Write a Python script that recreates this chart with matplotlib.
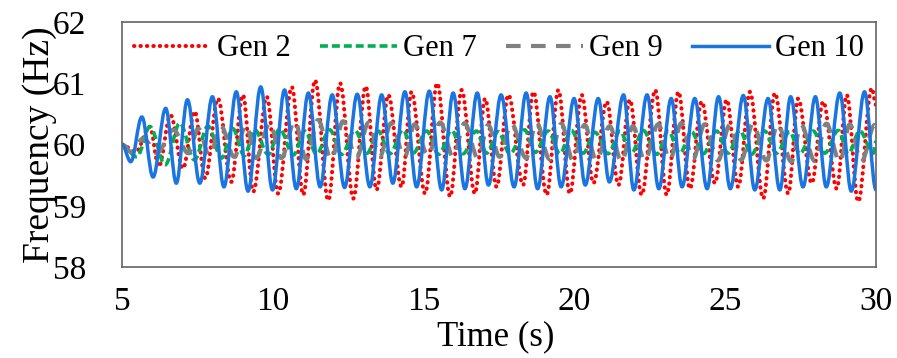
import matplotlib
matplotlib.use('Agg')
import matplotlib.pyplot as plt
from matplotlib.path import Path
from matplotlib.patches import PathPatch
from matplotlib.lines import Line2D

# extrema (time in s, frequency in Hz)
t_gen2 = [5.0, 5.45, 5.92, 6.22, 6.61, 7.02, 7.41, 7.76, 8.18, 8.62, 9.01, 9.35, 9.8, 10.18,
          10.63, 11.01, 11.4, 11.84, 12.23, 12.67, 13.08, 13.44, 13.83, 14.27, 14.6, 15.05,
          15.45, 15.88, 16.26, 16.7, 17.04, 17.42, 17.81, 18.3, 18.64, 19.08, 19.47, 19.85,
          20.24, 20.63, 21.07, 21.46, 21.84, 22.23, 22.68, 23.06, 23.45, 23.83, 24.22, 24.66,
          25.05, 25.43, 25.82, 26.26, 26.65, 27.09, 27.42, 27.87, 28.25, 28.7, 29.03, 29.41,
          29.86, 30.0]
f_gen2 = [60.0, 59.88, 60.29, 59.64, 60.48, 59.61, 60.54, 59.45, 60.75, 59.39, 60.81, 59.23,
          60.78, 59.2, 60.94, 59.18, 61.05, 59.09, 61.0, 59.12, 60.95, 59.26, 60.81, 59.31,
          60.86, 59.2, 61.0, 59.15, 60.89, 59.2, 60.75, 59.31, 60.81, 59.34, 60.86, 59.18,
          60.89, 59.2, 60.81, 59.37, 60.7, 59.34, 60.73, 59.18, 60.89, 59.18, 60.86, 59.28,
          60.7, 59.37, 60.73, 59.31, 60.86, 59.12, 60.84, 59.2, 60.75, 59.37, 60.7, 59.28,
          60.81, 59.07, 60.92, 60.65]

t_gen7 = [5.0, 5.49, 5.93, 6.43, 6.92, 7.4, 7.85, 8.3, 8.67, 9.06, 9.4, 9.85, 10.23, 10.68,
          11.06, 11.45, 11.89, 12.28, 12.72, 13.13, 13.49, 13.88, 14.32, 14.65, 15.1, 15.5,
          15.93, 16.31, 16.75, 17.09, 17.47, 17.86, 18.35, 18.69, 19.13, 19.52, 19.9, 20.29,
          20.68, 21.12, 21.51, 21.89, 22.28, 22.73, 23.11, 23.5, 23.88, 24.27, 24.71, 25.1,
          25.48, 25.87, 26.31, 26.7, 27.14, 27.47, 27.92, 28.3, 28.75, 29.08, 29.46, 29.91,
          30.0]
f_gen7 = [60.0, 59.8, 60.29, 59.67, 60.35, 59.75, 60.3, 59.78, 60.26, 59.82, 60.24, 59.84,
          60.25, 59.83, 60.22, 59.85, 60.24, 59.84, 60.23, 59.86, 60.22, 59.85, 60.24, 59.86,
          60.22, 59.84, 60.23, 59.85, 60.22, 59.86, 60.21, 59.85, 60.24, 59.87, 60.22, 59.85,
          60.23, 59.86, 60.2, 59.85, 60.22, 59.86, 60.23, 59.84, 60.22, 59.86, 60.21, 59.85,
          60.22, 59.86, 60.23, 59.84, 60.22, 59.86, 60.21, 59.85, 60.22, 59.86, 60.23, 59.85,
          60.22, 59.86, 60.05]

t_gen9 = [5.0, 5.3, 5.71, 6.15, 6.7, 7.2, 7.53, 7.9, 8.28, 8.72, 9.11, 9.45, 9.9, 10.28,
          10.73, 11.11, 11.5, 11.94, 12.33, 12.77, 13.18, 13.54, 13.93, 14.37, 14.7, 15.15,
          15.55, 15.98, 16.36, 16.8, 17.14, 17.52, 17.91, 18.4, 18.74, 19.18, 19.57, 19.95,
          20.34, 20.73, 21.17, 21.56, 21.94, 22.33, 22.78, 23.16, 23.55, 23.93, 24.32, 24.76,
          25.15, 25.53, 25.92, 26.36, 26.75, 27.19, 27.52, 27.97, 28.35, 28.8, 29.13, 29.51,
          29.96, 30.0]
f_gen9 = [60.0, 59.88, 60.1, 59.86, 60.24, 59.86, 60.26, 59.82, 60.3, 59.8, 60.32, 59.78,
          60.35, 59.78, 60.38, 59.76, 60.4, 59.76, 60.38, 59.78, 60.36, 59.8, 60.35, 59.8,
          60.33, 59.82, 60.36, 59.8, 60.35, 59.78, 60.32, 59.8, 60.34, 59.78, 60.36, 59.76,
          60.34, 59.74, 60.32, 59.74, 60.3, 59.72, 60.3, 59.74, 60.33, 59.75, 60.35, 59.76,
          60.33, 59.74, 60.32, 59.75, 60.34, 59.74, 60.33, 59.72, 60.32, 59.73, 60.34, 59.72,
          60.33, 59.72, 60.32, 60.3]

t_gen10 = [5.0, 5.29, 5.66, 6.03, 6.45, 6.8, 7.17, 7.58, 8.0, 8.38, 8.79, 9.18, 9.6, 9.99,
           10.39, 10.78, 11.18, 11.57, 11.97, 12.38, 12.8, 13.22, 13.61, 13.98, 14.38, 14.77,
           15.19, 15.6, 15.98, 16.37, 16.78, 17.15, 17.57, 18.0, 18.4, 18.78, 19.19, 19.56,
           19.99, 20.36, 20.79, 21.16, 21.63, 21.97, 22.41, 22.8, 23.21, 23.57, 23.99, 24.4,
           24.78, 25.17, 25.6, 25.98, 26.42, 26.81, 27.17, 27.58, 27.99, 28.35, 28.8, 29.18,
           29.62, 30.0]
f_gen10 = [60.0, 59.72, 60.45, 59.47, 60.59, 59.37, 60.73, 59.37, 60.78, 59.31, 60.86, 59.24,
           60.94, 59.26, 60.89, 59.28, 60.84, 59.31, 60.81, 59.3, 60.82, 59.31, 60.81, 59.37,
           60.86, 59.31, 60.87, 59.26, 60.84, 59.28, 60.84, 59.34, 60.81, 59.31, 60.84, 59.28,
           60.78, 59.31, 60.75, 59.34, 60.75, 59.39, 60.81, 59.26, 60.81, 59.28, 60.75, 59.31,
           60.75, 59.28, 60.78, 59.28, 60.8, 59.26, 60.75, 59.26, 60.78, 59.31, 60.78, 59.31,
           60.84, 59.24, 60.86, 59.26]

x_ticks = [5, 10, 15, 20, 25, 30]
y_ticks = [58, 59, 60, 61, 62]

plt.rcParams['font.family'] = ['Liberation Serif', 'DejaVu Serif']

# smooth line through the extrema: flat tangent at every peak / trough
def smooth_path( t, f ) :
	verts = [( t[0], f[0] )]
	codes = [Path.MOVETO]
	for i in range( 1, len( t ) ) :
		dt = t[i] - t[i - 1]
		verts += [( t[i - 1] + 0.364 * dt, f[i - 1] ), ( t[i] - 0.364 * dt, f[i] ), ( t[i], f[i] )]
		codes += [Path.CURVE4] * 3
	return Path( verts, codes )

fig = plt.figure( figsize = ( 8.97, 3.58 ), dpi = 100 )
ax = fig.add_axes( [0.136, 0.254, 0.8406, 0.6845] )

series = [
	( t_gen2, f_gen2, 'Gen 2', dict( color = '#FF0000', lw = 2.9, linestyle = ( 0, ( 0.1, 1.5 ) ), dash_capstyle = 'round' ) ),
	( t_gen7, f_gen7, 'Gen 7', dict( color = '#00B050', lw = 2.6, linestyle = ( 0, ( 2.2, 1.1 ) ) ) ),
	( t_gen9, f_gen9, 'Gen 9', dict( color = '#808080', lw = 3.0, linestyle = ( 0, ( 3.5, 2.5 ) ) ) ),
	( t_gen10, f_gen10, 'Gen 10', dict( color = '#1B75E0', lw = 2.5, linestyle = '-' ) ),
]

handles = []
for t, f, name, st in series :
	patch = PathPatch( smooth_path( t, f ), fill = False, edgecolor = st['color'], lw = st['lw'],
	                   linestyle = st['linestyle'], capstyle = st.get( 'dash_capstyle', 'butt' ) )
	ax.add_patch( patch )
	handles.append( Line2D( [], [], label = name, **st ) )

ax.set_xlim( 5, 30 )
ax.set_ylim( 58, 62 )
ax.set_xticks( x_ticks )
ax.set_yticks( y_ticks )
ax.tick_params( axis = 'both', length = 0, labelsize = 24 )
ax.tick_params( axis = 'x', pad = 14 )
ax.tick_params( axis = 'y', pad = 26 )

for s in ax.spines.values() :
	s.set_color( '#646464' )
	s.set_linewidth( 1.2 )

ax.set_xlabel( 'Time (s)', fontsize = 25, va = 'center' )
ax.xaxis.set_label_coords( 0.495, -0.285 )
ax.set_ylabel( 'Frequency (Hz)', fontsize = 27, va = 'center' )
ax.yaxis.set_label_coords( -0.109, 0.5 )

ax.legend( handles = handles, loc = 'upper left', bbox_to_anchor = ( 0.0, 1.0, 1.0, 0.0 ), mode = 'expand',
           ncol = 4, frameon = False, fontsize = 22, handlelength = 2.5, handletextpad = 0.2,
           borderaxespad = 0.25, borderpad = 0.15 )

fig.savefig( 'out.png', dpi = 100 )
